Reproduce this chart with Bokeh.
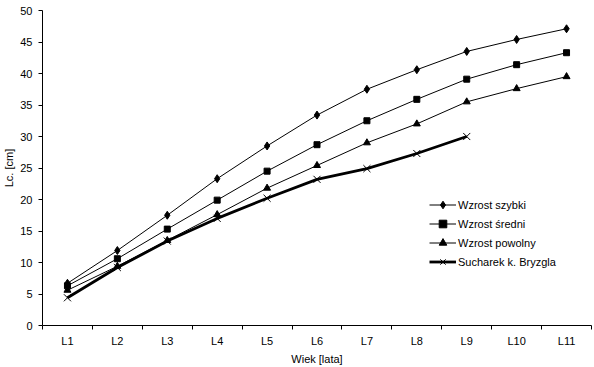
from bokeh.plotting import figure
from bokeh.models import FixedTicker, Legend, LegendItem, Range1d
from bokeh.embed import file_html
from bokeh.resources import INLINE

categories = ["L1", "L2", "L3", "L4", "L5", "L6", "L7", "L8", "L9", "L10", "L11"]
szybki = [6.7, 11.9, 17.5, 23.3, 28.5, 33.4, 37.5, 40.6, 43.5, 45.4, 47.1]
sredni = [6.3, 10.6, 15.3, 19.9, 24.5, 28.7, 32.5, 35.9, 39.1, 41.4, 43.3]
powolny = [5.6, 9.4, 13.5, 17.6, 21.8, 25.4, 29.0, 32.0, 35.5, 37.6, 39.5]
sucharek = [4.4, 9.2, 13.4, 17.0, 20.2, 23.2, 24.9, 27.3, 30.0]
y_ticks = [0, 5, 10, 15, 20, 25, 30, 35, 40, 45, 50]

FONT = "Liberation Sans"

p = figure(width=594, height=367, output_backend="svg", toolbar_location=None,
           x_range=Range1d(0, len(categories)), y_range=Range1d(0, 50),
           min_border_left=36, min_border_right=3, min_border_top=10, min_border_bottom=41)
p.outline_line_color = None
p.grid.visible = False

xc = [i + 0.5 for i in range(len(categories))]

p.xaxis.ticker = FixedTicker(ticks=xc, minor_ticks=list(range(len(categories) + 1)))
p.xaxis.major_label_overrides = {x: c for x, c in zip(xc, categories)}
p.xaxis.major_tick_out = 0
p.xaxis.major_tick_in = 0
p.xaxis.minor_tick_out = 4
p.xaxis.minor_tick_in = 0
p.xaxis.minor_tick_line_color = "black"
p.xaxis.axis_label = "Wiek [lata]"

p.yaxis.ticker = FixedTicker(ticks=y_ticks)
p.yaxis.major_tick_out = 4
p.yaxis.major_tick_in = 0
p.yaxis.minor_tick_out = 0
p.yaxis.minor_tick_in = 0
p.yaxis.axis_label = "Lc. [cm]"

for ax in (p.xaxis[0], p.yaxis[0]):
    ax.axis_line_color = "black"
    ax.major_tick_line_color = "black"
    ax.major_label_text_font = FONT
    ax.major_label_text_font_size = "11px"
    ax.major_label_text_color = "black"
    ax.axis_label_text_font = FONT
    ax.axis_label_text_font_size = "11px"
    ax.axis_label_text_font_style = "normal"
    ax.axis_label_text_color = "black"
p.xaxis.major_label_standoff = 5
p.xaxis.axis_label_standoff = 3
p.yaxis.major_label_standoff = 6
p.yaxis.axis_label_standoff = 2

items = []
l1 = p.line(xc, szybki, line_color="black", line_width=1)
m1 = p.scatter(xc, szybki, marker="diamond", size=8, color="black")
items.append(LegendItem(label="Wzrost szybki", renderers=[l1, m1]))
l2 = p.line(xc, sredni, line_color="black", line_width=1)
m2 = p.scatter(xc, sredni, marker="square", size=6, color="black")
items.append(LegendItem(label="Wzrost średni", renderers=[l2, m2]))
l3 = p.line(xc, powolny, line_color="black", line_width=1)
m3 = p.scatter(xc, powolny, marker="triangle", size=7, color="black")
items.append(LegendItem(label="Wzrost powolny", renderers=[l3, m3]))
xs4 = xc[:len(sucharek)]
l4 = p.line(xs4, sucharek, line_color="black", line_width=2.8)
m4 = p.scatter(xs4, sucharek, marker="x", size=10, line_color="black", line_width=1)
items.append(LegendItem(label="Sucharek k. Bryzgla", renderers=[l4, m4]))

legend = Legend(items=items, location=(387, 54), border_line_color=None,
                background_fill_alpha=0, padding=0, margin=0, spacing=0,
                glyph_width=27, glyph_height=19, label_height=19, label_standoff=2,
                label_text_font=FONT, label_text_font_size="11px", label_text_color="black")
p.add_layout(legend, "center")

open("out.html", "w").write(file_html(p, INLINE))
